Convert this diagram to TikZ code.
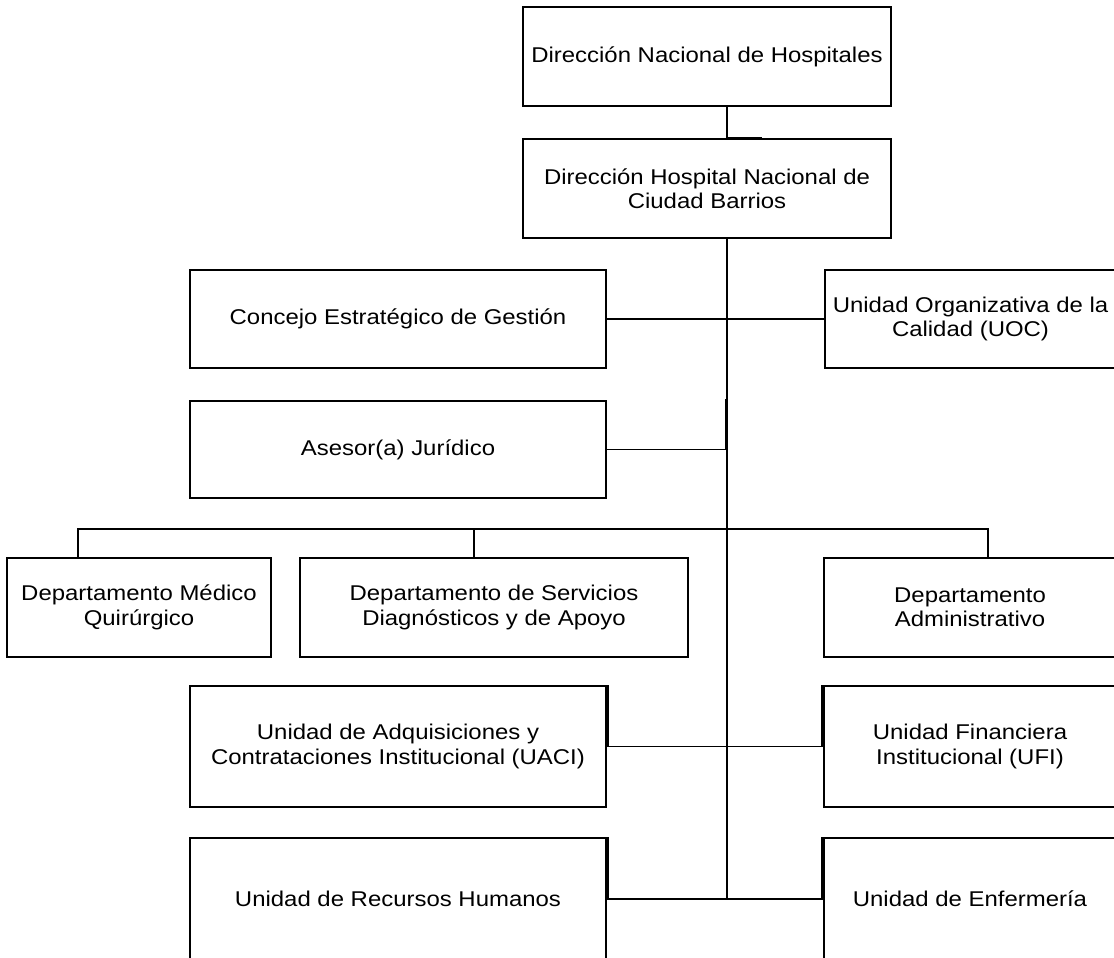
\documentclass[tikz,border=0pt]{standalone}
\usepackage{fontspec}
\setmainfont{Liberation Sans}[FakeStretch=1.12]
\usetikzlibrary{calc}

\tikzset{
  caja/.style={draw, line width=1.4pt, align=center, inner sep=0pt,
    font=\fontsize{15.2}{17.4}\selectfont},
  linea/.style={line width=1.4pt}
}

\begin{document}
\begin{tikzpicture}[x=0.025cm,y=-0.025cm,line join=miter]
\useasboundingbox (0,0) rectangle (1114,958);
\node[caja,minimum width=9.2cm,minimum height=2.475cm] (dnh) at (707,56.5) {Dirección Nacional de Hospitales};
\node[caja,minimum width=9.2cm,minimum height=2.475cm] (dhn) at (707,188.5) {Dirección Hospital Nacional de\\Ciudad Barrios};
\node[caja,minimum width=10.4cm,minimum height=2.45cm] (ceg) at (398,319) {Concejo Estratégico de Gestión};
\node[caja,minimum width=7.275cm,minimum height=2.45cm] (uoc) at (970.5,319) {Unidad Organizativa de la\\Calidad (UOC)};
\node[caja,minimum width=10.4cm,minimum height=2.425cm] (aj) at (398,449.5) {Asesor(a) Jurídico};
\node[caja,minimum width=6.6cm,minimum height=2.475cm] (mq) at (139,607.5) {Departamento Médico\\Quirúrgico};
\node[caja,minimum width=9.7cm,minimum height=2.475cm] (ds) at (494,607.5) {Departamento de Servicios\\Diagnósticos y de Apoyo};
\node[caja,minimum width=7.3cm,minimum height=2.475cm] (adm) at (970,607.5) {Departamento\\Administrativo};
\node[caja,minimum width=10.4cm,minimum height=3.025cm] (uaci) at (398,746.5) {Unidad de Adquisiciones y\\Contrataciones Institucional (UACI)};
\node[caja,minimum width=7.3cm,minimum height=3.025cm] (ufi) at (970,746.5) {Unidad Financiera\\Institucional (UFI)};
\node[caja,minimum width=10.4cm,minimum height=3.05cm] (rh) at (398,899) {Unidad de Recursos Humanos};
\node[caja,minimum width=7.3cm,minimum height=3.05cm] (enf) at (970,899) {Unidad de Enfermería};

\coordinate (spine) at (727,899);
\coordinate (stub) at (762,138);
\coordinate (ajtop) at (725.5,399);
\coordinate (b1) at (78,529);
\coordinate (b2) at (474,529);
\coordinate (b3) at (988,529);

\draw[linea] (dnh.south -| spine) |- (stub);
\draw[linea] (dhn.south -| spine) -- (spine);
\draw[linea] (ceg.east) -- (uoc.west);
\draw[linea] (aj.east) -| (ajtop);
\draw[linea] (mq.north -| b1) |- (b3) -- (adm.north -| b3);
\draw[linea] (b2) -- (ds.north -| b2);
\draw[linea] ($(uaci.north east)+(1,0)$) |- ($(ufi.west)+(-1,0)$) -- ($(ufi.north west)+(-1,0)$);
\draw[linea] ($(rh.north east)+(1,0)$) |- ($(enf.west)+(-1,0)$) -- ($(enf.north west)+(-1,0)$);
\end{tikzpicture}
\end{document}
